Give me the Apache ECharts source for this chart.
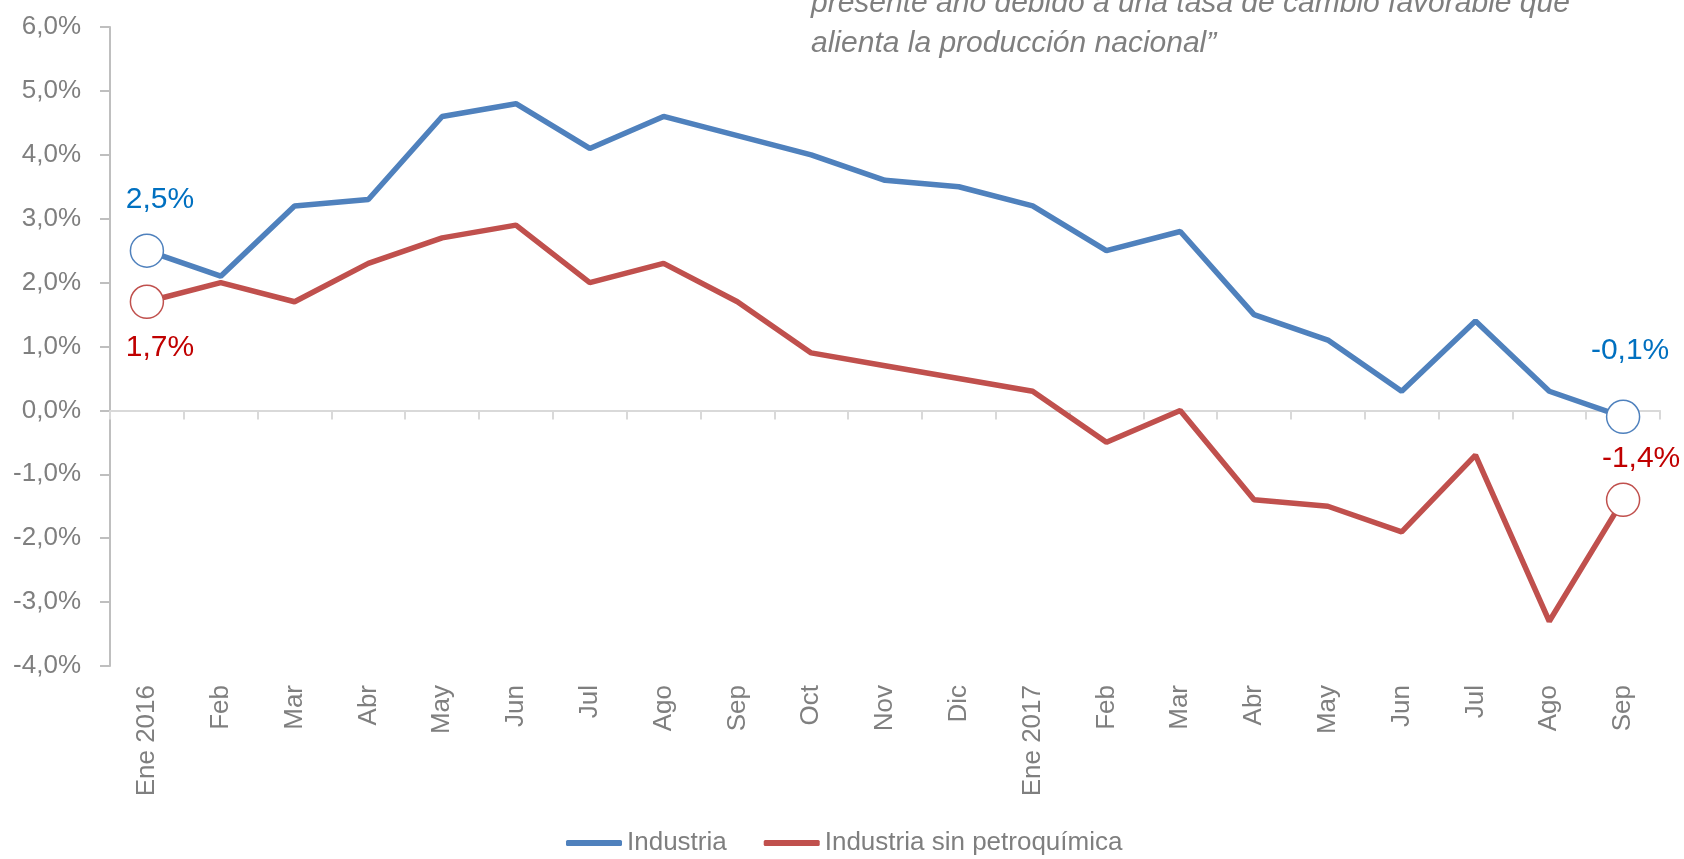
<!DOCTYPE html>
<html>
<head>
<meta charset="utf-8">
<script src="https://cdn.jsdelivr.net/npm/echarts@6/dist/echarts.min.js"></script>
<style>
  html, body { margin: 0; padding: 0; background: #fff; }
  #chart { width: 1684px; height: 859px; }
</style>
</head>
<body>
<div id="chart"></div>
<script>
var FONT = '"Liberation Sans", Arial, sans-serif';

var categories = ['Ene 2016', 'Feb', 'Mar', 'Abr', 'May', 'Jun', 'Jul', 'Ago', 'Sep', 'Oct', 'Nov', 'Dic',
    'Ene 2017', 'Feb', 'Mar', 'Abr', 'May', 'Jun', 'Jul', 'Ago', 'Sep'];
var industria = [2.5, 2.1, 3.2, 3.3, 4.6, 4.8, 4.1, 4.6, 4.3, 4.0, 3.6, 3.5,
    3.2, 2.5, 2.8, 1.5, 1.1, 0.3, 1.4, 0.3, -0.1];
var sinPetro = [1.7, 2.0, 1.7, 2.3, 2.7, 2.9, 2.0, 2.3, 1.7, 0.9, 0.7, 0.5,
    0.3, -0.5, 0.0, -1.4, -1.5, -1.9, -0.7, -3.3, -1.4];
var seriesNames = ['Industria', 'Industria sin petroquímica'];
var quoteLines = ['presente año debido a una tasa de cambio favorable que',
    'alienta la producción nacional”'];

function pct(v) {
    return v.toFixed(1).replace('.', ',') + '%';
}

// only first and last points get a hollow marker with a label
function buildData(values, lineColor, firstOffset, lastOffset) {
    var last = values.length - 1;
    return values.map(function (v, i) {
        if (i !== 0 && i !== last)
            return { value: v, symbol: 'none' };
        return {
            value: v,
            symbol: 'circle',
            symbolSize: 33,
            itemStyle: { color: '#fff', borderColor: lineColor, borderWidth: 1.5 },
            label: { show: true, offset: i === 0 ? firstOffset : lastOffset }
        };
    });
}

function lineSeries(name, values, lineColor, labelColor, firstOffset, lastOffset) {
    return {
        name: name,
        type: 'line',
        z: name === seriesNames[0] ? 3 : 2,
        itemStyle: { color: lineColor },
        lineStyle: { color: lineColor, width: 5.5 },
        label: {
            show: false,
            position: 'inside',
            color: labelColor,
            fontFamily: FONT,
            fontSize: 30,
            formatter: function (p) { return pct(p.value); }
        },
        emphasis: { disabled: true },
        data: buildData(values, lineColor, firstOffset, lastOffset)
    };
}

var chart = echarts.init(document.getElementById('chart'));

chart.setOption({
    animation: false,
    grid: { left: 110, right: 24, top: 27, bottom: 193 },
    legend: {
        left: 561,
        top: 825,
        icon: 'roundRect',
        itemWidth: 56,
        itemHeight: 6,
        itemGap: 37,
        textStyle: { color: '#7F7F7F', fontFamily: FONT, fontSize: 26 },
        data: seriesNames
    },
    xAxis: [
        {
            type: 'category',
            position: 'bottom',
            data: categories,
            axisLine: { show: false, onZero: false },
            axisTick: { show: false },
            axisLabel: {
                rotate: 90,
                margin: 19,
                interval: 0,
                color: '#7F7F7F',
                fontFamily: FONT,
                fontSize: 26
            }
        },
        {
            type: 'category',
            position: 'bottom',
            data: categories,
            axisLine: { show: true, onZero: true, lineStyle: { color: '#D9D9D9', width: 2 } },
            axisTick: { show: true, length: 9, interval: 0, lineStyle: { color: '#D9D9D9', width: 2 } },
            axisLabel: { show: false }
        }
    ],
    yAxis: {
        type: 'value',
        min: -4,
        max: 6,
        interval: 1,
        splitLine: { show: false },
        axisLine: { show: true, lineStyle: { color: '#BFBFBF', width: 2 } },
        axisTick: { show: true, length: 10, lineStyle: { color: '#BFBFBF', width: 2 } },
        axisLabel: {
            margin: 29,
            color: '#7F7F7F',
            fontFamily: FONT,
            fontSize: 26,
            formatter: function (v) { return pct(v); }
        }
    },
    graphic: [
        {
            type: 'text',
            left: 811,
            top: -11,
            style: {
                text: quoteLines[0],
                fill: '#7F7F7F',
                font: 'italic 30px ' + FONT
            }
        },
        {
            type: 'text',
            left: 811,
            top: 29,
            style: {
                text: quoteLines[1],
                fill: '#7F7F7F',
                font: 'italic 30px ' + FONT
            }
        }
    ],
    series: [
        lineSeries(seriesNames[0], industria, '#4F81BD', '#0070C0', [13, -51], [7, -66]),
        lineSeries(seriesNames[1], sinPetro, '#C0504D', '#C00000', [13, 46], [18, -41])
    ]
});
</script>
</body>
</html>
